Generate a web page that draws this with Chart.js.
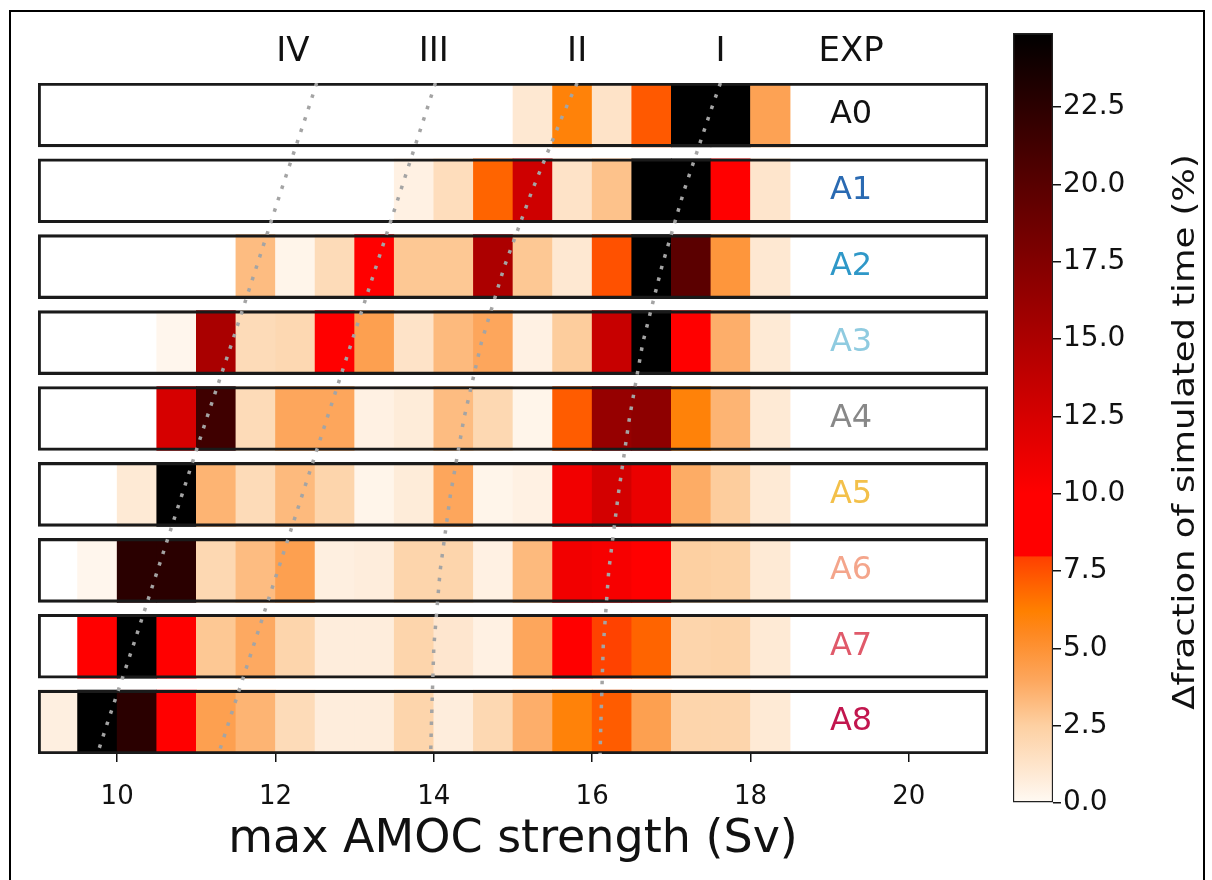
<!DOCTYPE html>
<html>
<head>
<meta charset="utf-8">
<script src="https://cdn.jsdelivr.net/npm/chart.js@4.4.1/dist/chart.umd.min.js"></script>
<style>
  body { margin: 0; background: #fff; }
  #wrap { position: relative; width: 1212px; height: 880px; overflow: hidden; background: #fff; }
  .box { position: absolute; top: 0; height: 880px; }
  #frame { position: absolute; left: 9px; top: 10px; width: 1192px; height: 900px; border: 2.5px solid #000; pointer-events: none; }
</style>
</head>
<body>
<div id="wrap">
  <div class="box" style="left:0;width:1000px"><canvas id="main"></canvas></div>
  <div class="box" style="left:1000px;width:212px"><canvas id="cbar"></canvas></div>
  <div id="frame"></div>
</div>
<script>
const FONT = '"DejaVu Sans", sans-serif';

// experiments (rows, top to bottom)
const experiments = ['A0', 'A1', 'A2', 'A3', 'A4', 'A5', 'A6', 'A7', 'A8'];
const expColors = ['#111111', '#2a6ab2', '#2f98c8', '#8fcbe0', '#888888', '#f3c04a', '#f4a58b', '#e05a6a', '#c2164e'];

// bins of max AMOC strength (Sv), 0.5 Sv wide
const binStarts = [9, 9.5, 10, 10.5, 11, 11.5, 12, 12.5, 13, 13.5, 14, 14.5, 15, 15.5, 16, 16.5, 17, 17.5, 18];
const binWidth = 0.5;

// fraction of simulated time (%) per bin
const fracA0 = [0, 0, 0, 0, 0, 0, 0, 0, 0, 0, 0, 0, 1.0, 6.0, 1.3, 7.3, 40, 40, 4.2];
const fracA1 = [0, 0, 0, 0, 0, 0, 0, 0, 0, 0.5, 1.7, 7.0, 13.0, 1.3, 3.0, 31, 31, 10.0, 1.2];
const fracA2 = [0, 0, 0, 0, 0, 3.2, 0.3, 1.8, 10.0, 2.8, 2.8, 15.0, 2.8, 1.0, 7.5, 25, 19.8, 4.8, 1.0];
const fracA3 = [0, 0, 0, 0.2, 15.2, 1.8, 2.0, 10.0, 4.3, 1.3, 3.3, 4.0, 0.5, 2.6, 13.4, 26, 10.0, 3.7, 0.9];
const fracA4 = [0, 0, 0, 12.5, 21.4, 1.8, 4.0, 4.0, 0.5, 0.8, 3.2, 2.0, 0.3, 7.2, 16.3, 16.8, 6.0, 3.5, 0.9];
const fracA5 = [0, 0, 0.9, 40, 3.5, 1.8, 3.3, 2.2, 0.3, 0.8, 4.0, 0.3, 0.5, 10.8, 12.7, 11.2, 3.8, 2.6, 0.9];
const fracA6 = [0, 0.2, 22.6, 22.6, 2.0, 3.2, 4.3, 0.6, 0.7, 2.2, 2.2, 0.5, 3.3, 10.8, 10.5, 10.0, 2.5, 2.4, 0.9];
const fracA7 = [0, 10.0, 30, 10.0, 2.8, 3.9, 2.2, 0.7, 0.7, 2.2, 1.1, 0.5, 4.0, 10.0, 7.9, 7.0, 2.2, 2.3, 0.9];
const fracA8 = [0.6, 26, 22.6, 10.0, 4.3, 3.5, 1.8, 0.7, 0.7, 2.2, 0.7, 2.0, 3.7, 6.0, 7.2, 4.3, 2.2, 2.2, 0.9];
const fractions = [fracA0, fracA1, fracA2, fracA3, fracA4, fracA5, fracA6, fracA7, fracA8];

// regime boundaries (dotted lines), x in Sv at row positions
const regimeNames = ['IV', 'III', 'II', 'I'];
const regimeLabelX = [12.22, 14.0, 15.81, 17.62];
const regimeY = [-0.42, 0, 1, 2, 3, 4, 5, 6, 7, 8, 8.42];
const regimeIV = [12.52, 12.39, 12.07, 11.76, 11.45, 11.13, 10.82, 10.51, 10.20, 9.88, 9.75];
const regimeIII = [14.02, 13.89, 13.58, 13.27, 12.96, 12.65, 12.34, 12.03, 11.72, 11.41, 11.28];
const regimeII = [15.81, 15.63, 15.24, 14.89, 14.60, 14.38, 14.21, 14.08, 14.00, 13.97, 13.96];
const regimeI = [17.62, 17.48, 17.16, 16.88, 16.64, 16.47, 16.33, 16.21, 16.14, 16.11, 16.10];

const xTicks = [10, 12, 14, 16, 18, 20];
const cbTicks = [0, 2.5, 5, 7.5, 10, 12.5, 15, 17.5, 20, 22.5];
const cbMax = 24.9;

// colormap: white -> orange, then red -> black
const cmapStops = [
  [0.0, [255, 250, 244]], [1.0, [254, 232, 210]], [2.5, [253, 208, 162]],
  [4.0, [253, 166, 92]], [5.5, [254, 136, 32]], [6.2, [255, 128, 0]],
  [7.0, [255, 100, 0]], [7.95, [255, 64, 0]], [8.0, [255, 0, 0]],
  [10.0, [255, 0, 0]], [12.5, [214, 0, 0]], [15.0, [172, 0, 0]],
  [17.5, [130, 0, 0]], [20.0, [88, 0, 0]], [22.5, [44, 0, 0]], [24.9, [0, 0, 0]]
];

function cmap(v) {
  if (v <= 0) return 'rgba(0,0,0,0)';
  v = Math.min(v, cbMax);
  for (let i = 1; i < cmapStops.length; i++) {
    const [v1, c1] = cmapStops[i];
    if (v <= v1) {
      const [v0, c0] = cmapStops[i - 1];
      const t = (v - v0) / (v1 - v0);
      const c = c0.map((a, k) => Math.round(a + (c1[k] - a) * t));
      return `rgb(${c[0]},${c[1]},${c[2]})`;
    }
  }
  return '#000';
}

const cellSets = fractions.map((vals, r) => ({
  data: binStarts.map(s => ({ x: [s, s + binWidth], y: r })),
  backgroundColor: vals.map(cmap),
  borderWidth: 0,
  order: 3
}));

const frameSet = {
  data: experiments.map((e, r) => ({ x: [9, 21], y: r })),
  backgroundColor: 'rgba(0,0,0,0)',
  borderColor: '#1a1a1a',
  borderWidth: 2.5,
  borderSkipped: false,
  order: 2
};

const lineSets = [regimeIV, regimeIII, regimeII, regimeI].map(xs => ({
  type: 'line',
  data: xs.map((v, j) => ({ x: v, y: regimeY[j] })),
  borderColor: '#a4a4a4',
  borderWidth: 3.5,
  borderDash: [3.5, 8.5],
  pointRadius: 0,
  fill: false,
  tension: 0,
  order: 1
}));

const rowLabels = {
  id: 'rowLabels',
  afterDatasetsDraw(chart) {
    const { ctx, scales: { x, y }, chartArea } = chart;
    ctx.save();
    ctx.font = '32px ' + FONT;
    ctx.textAlign = 'center';
    ctx.textBaseline = 'middle';
    const lx = x.getPixelForValue(19.27);
    experiments.forEach((name, i) => {
      ctx.fillStyle = expColors[i];
      ctx.fillText(name, lx, y.getPixelForValue(i));
    });
    ctx.fillStyle = '#111';
    ctx.font = '34px ' + FONT;
    const hy = chartArea.top - 31;
    ctx.fillText('EXP', lx, hy);
    regimeNames.forEach((n, k) => ctx.fillText(n, x.getPixelForValue(regimeLabelX[k]), hy));
    ctx.restore();
  }
};

new Chart(document.getElementById('main'), {
  type: 'bar',
  data: { datasets: [...cellSets, frameSet, ...lineSets] },
  options: {
    indexAxis: 'y',
    responsive: true,
    maintainAspectRatio: false,
    animation: false,
    events: [],
    layout: { padding: { left: 38, right: 12, top: 83, bottom: 0 } },
    datasets: { bar: { grouped: false, barThickness: 64 } },
    plugins: { legend: { display: false }, tooltip: { enabled: false } },
    scales: {
      y: { type: 'linear', reverse: true, offset: false, min: -0.42, max: 8.42, display: false },
      x: {
        type: 'linear', min: 9, max: 21,
        afterBuildTicks: s => { s.ticks = xTicks.map(v => ({ value: v })); },
        afterFit: s => { s.height = 126; },
        border: { display: false },
        grid: { drawOnChartArea: false, tickLength: 8, color: '#111', lineWidth: 1.5 },
        ticks: { font: { size: 26, family: FONT }, color: '#111', padding: 20, maxRotation: 0, autoSkip: false },
        title: { display: true, text: 'max AMOC strength (Sv)', font: { size: 46, family: FONT }, color: '#111', padding: { top: 0, bottom: 12 } }
      }
    }
  },
  plugins: [rowLabels]
});

const cbTitle = {
  id: 'cbTitle',
  afterDraw(chart) {
    const { ctx, chartArea } = chart;
    ctx.save();
    ctx.translate(186, (chartArea.top + chartArea.bottom) / 2 + 14);
    ctx.rotate(-Math.PI / 2);
    ctx.scale(1.18, 1);
    ctx.font = '30px ' + FONT;
    ctx.fillStyle = '#111';
    ctx.textAlign = 'center';
    ctx.textBaseline = 'middle';
    ctx.fillText('Δfraction of simulated time (%)', 0, 0);
    ctx.restore();
  }
};

new Chart(document.getElementById('cbar'), {
  type: 'bar',
  data: {
    labels: [''],
    datasets: [{
      data: [[0, cbMax]],
      backgroundColor: c => {
        const a = c.chart.chartArea;
        if (!a) return '#fff';
        const g = c.chart.ctx.createLinearGradient(0, a.bottom, 0, a.top);
        cmapStops.forEach(([v, col]) => g.addColorStop(v / cbMax, `rgb(${col.join(',')})`));
        return g;
      },
      borderColor: '#222',
      borderWidth: 1.5,
      borderSkipped: false,
      barPercentage: 1,
      categoryPercentage: 1
    }]
  },
  options: {
    responsive: true,
    maintainAspectRatio: false,
    animation: false,
    events: [],
    layout: { padding: { left: 13, right: 19, top: 33, bottom: 77 } },
    plugins: { legend: { display: false }, tooltip: { enabled: false } },
    scales: {
      x: { display: false },
      y: {
        position: 'right', min: 0, max: cbMax,
        afterBuildTicks: s => { s.ticks = cbTicks.map(v => ({ value: v })); },
        afterFit: s => { s.width = 140; },
        border: { display: false },
        grid: { drawOnChartArea: false, tickLength: 8, color: '#111', lineWidth: 1.5 },
        ticks: { font: { size: 28, family: FONT }, color: '#111', padding: 2, callback: v => v.toFixed(1) }
      }
    }
  },
  plugins: [cbTitle]
});
</script>
</body>
</html>
